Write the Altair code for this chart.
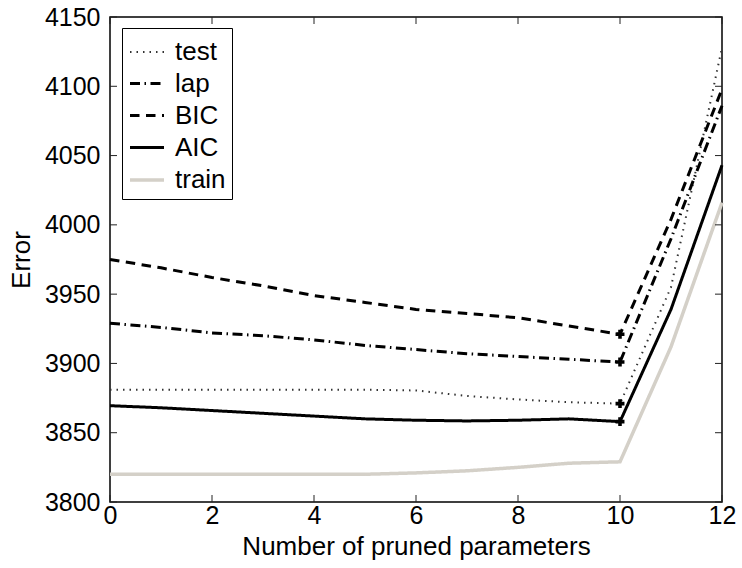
import altair as alt
import pandas as pd

# ---- data ----
x_vals = [0, 1, 2, 3, 4, 5, 6, 7, 8, 9, 10, 11, 12]
train = [3820, 3820, 3820, 3820, 3820, 3820, 3821, 3822.5, 3825, 3828, 3829, 3912, 4016]
aic = [3869.5, 3868, 3866, 3864, 3862, 3860, 3859, 3858.5, 3859, 3860, 3858, 3939, 4043]
test = [3881, 3881, 3881, 3881, 3881, 3881, 3880.5, 3876.5, 3874, 3872, 3871, 3955, 4128]
lap = [3929, 3926, 3922, 3920, 3917, 3913, 3910, 3907, 3905, 3903, 3901, 3990, 4086]
bic = [3975, 3969, 3962, 3956, 3949, 3944, 3939, 3936, 3933, 3927, 3921, 4004, 4098]

series_order = ["test", "lap", "BIC", "AIC", "train"]
series_values = {"test": test, "lap": lap, "BIC": bic, "AIC": aic, "train": train}
marker_x = 10
marker_series = ["test", "lap", "BIC", "AIC"]

x_ticks = [0, 2, 4, 6, 8, 10, 12]
y_ticks = [3800, 3850, 3900, 3950, 4000, 4050, 4100, 4150]

# ---- styles ----
colors = ["#333333", "#000000", "#000000", "#000000", "#d4d0c8"]
dashes = [[1.5, 5], [10, 4.5, 1.5, 4.5], [9.5, 6.5], [1, 0], [1, 0]]
widths = [2, 3, 3, 3, 3.5]
FONT = "Liberation Sans"
W, H = 612, 485

rows = []
for s in series_order:
    for xv, yv in zip(x_vals, series_values[s]):
        rows.append({"x": xv, "value": yv, "series": s})
df = pd.DataFrame(rows)
markers = df[(df["x"] == marker_x) & (df["series"].isin(marker_series))]

xscale = alt.Scale(domain=[0, 12], nice=False, zero=False)
yscale = alt.Scale(domain=[3800, 4150], nice=False, zero=False)
xaxis = alt.Axis(values=x_ticks, title="Number of pruned parameters", format="d", labelFlush=False)
yaxis = alt.Axis(values=y_ticks, title="Error", format="d", labelFlush=False)

leg = alt.Legend(
    title=None, orient="none", legendX=12, legendY=11,
    symbolType="stroke", symbolSize=1156, labelFontSize=26, labelFont=FONT,
    labelColor="black", labelOffset=9, padding=6, rowPadding=0,
    strokeColor="black", fillColor="white", cornerRadius=0, labelLimit=200,
)

lines = alt.Chart(df).mark_line(strokeCap="butt", strokeJoin="miter").encode(
    x=alt.X("x:Q", scale=xscale, axis=xaxis),
    y=alt.Y("value:Q", scale=yscale, axis=yaxis),
    color=alt.Color("series:N", scale=alt.Scale(domain=series_order, range=colors), legend=leg),
    strokeDash=alt.StrokeDash("series:N", scale=alt.Scale(domain=series_order, range=dashes), legend=leg),
    strokeWidth=alt.StrokeWidth("series:N", scale=alt.Scale(type="ordinal", domain=series_order, range=widths), legend=leg),
    order=alt.Order("x:Q"),
    detail="series:N",
)

pts = alt.Chart(markers).mark_point(shape="cross", filled=True, size=80, color="black", opacity=1).encode(
    x=alt.X("x:Q", scale=xscale, axis=xaxis),
    y=alt.Y("value:Q", scale=yscale, axis=yaxis),
)

xt = pd.DataFrame({"x": x_ticks})
yt = pd.DataFrame({"value": y_ticks})
tick_col = "#222222"
bt = alt.Chart(xt).mark_rule(color=tick_col, strokeWidth=1).encode(
    x=alt.X("x:Q", scale=xscale, axis=xaxis), y=alt.value(H), y2=alt.value(H - 7))
tt = alt.Chart(xt).mark_rule(color=tick_col, strokeWidth=1).encode(
    x=alt.X("x:Q", scale=xscale, axis=xaxis), y=alt.value(0), y2=alt.value(7))
lt = alt.Chart(yt).mark_rule(color=tick_col, strokeWidth=1).encode(
    y=alt.Y("value:Q", scale=yscale, axis=yaxis), x=alt.value(0), x2=alt.value(7))
rt = alt.Chart(yt).mark_rule(color=tick_col, strokeWidth=1).encode(
    y=alt.Y("value:Q", scale=yscale, axis=yaxis), x=alt.value(W), x2=alt.value(W - 7))

chart = alt.layer(lines, pts, bt, tt, lt, rt).properties(
    width=W, height=H,
    autosize=alt.AutoSizeParams(type="none"),
    padding={"left": 110, "top": 17, "right": 20, "bottom": 66},
    background="white",
).configure_view(
    stroke="black", strokeWidth=1.5,
).configure_axis(
    domain=False, ticks=False, grid=False,
    labelFont=FONT, labelFontSize=25, labelColor="black",
    titleFont=FONT, titleFontSize=26, titleColor="black", titleFontWeight="normal",
).configure_axisX(
    labelPadding=1, titlePadding=5,
).configure_axisY(
    labelPadding=10, titlePadding=10,
)

chart.save("out.html", embed_options={"renderer": "svg", "actions": False})
